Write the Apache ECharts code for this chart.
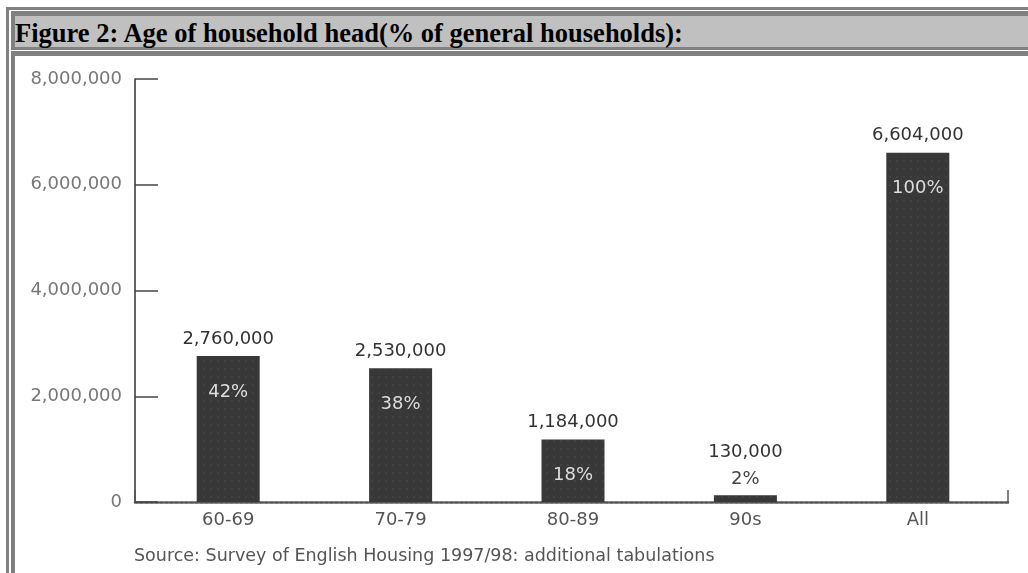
<!DOCTYPE html>
<html>
<head>
<meta charset="utf-8">
<script src="https://cdn.jsdelivr.net/npm/echarts@6/dist/echarts.min.js"></script>
<style>
  html, body { margin: 0; padding: 0; width: 1028px; height: 573px; overflow: hidden; background: #fff; }
  #outer { position: absolute; left: 6px; top: 7px; width: 1100px; height: 700px;
           border-left: 3px solid #808080; border-top: 3px solid #808080; background: #fff; }
  #header { position: absolute; left: 11px; top: 11px; width: 1100px; height: 31px;
            border-top: 5px solid #808080; border-left: 4px solid #808080; border-bottom: 3px solid #808080;
            background: #c0c0c0; }
  #header span { position: absolute; left: 0px; top: 3px; font-family: "Liberation Serif", "Times New Roman", serif;
                 font-weight: bold; font-size: 26.5px; color: #000; white-space: nowrap; line-height: 28px; }
  #content { position: absolute; left: 11px; top: 51px; width: 1100px; height: 700px;
             border-top: 5px solid #808080; border-left: 4px solid #808080; background: #fff; }
  #chart { position: absolute; left: 0; top: 0; width: 1028px; height: 573px; }
</style>
</head>
<body>
<div id="outer"></div>
<div id="header"><span>Figure 2: Age of household head(% of general households):</span></div>
<div id="content"></div>
<div id="chart"></div>
<script>
const categories = ['60-69', '70-79', '80-89', '90s', 'All'];
const households = [2760000, 2530000, 1184000, 130000, 6604000];
const percentLabels = ['42%', '38%', '18%', '2%', '100%'];
const yMin = 0, yMax = 8000000, yInterval = 2000000;
const sourceNote = 'Source: Survey of English Housing 1997/98: additional tabulations';

const fmt = v => Number(v).toLocaleString('en-US');
const FONT = '"DejaVu Sans", sans-serif';

const chart = echarts.init(document.getElementById('chart'), null, { renderer: 'canvas' });

const gridTop = 79, gridBottom = 71;

chart.setOption({
  animation: false,
  backgroundColor: 'transparent',
  graphic: [{
    type: 'text', left: 134, top: 547,
    style: { text: sourceNote, font: '17.5px ' + FONT, fill: '#555' }
  }],
  grid: [
    { left: 135, right: 20, top: gridTop, bottom: gridBottom },
    { left: 142, right: 24, top: gridTop, bottom: gridBottom }
  ],
  xAxis: [
    { type: 'value', gridIndex: 0, min: 0, max: 1, interval: 1,
      axisLine: { show: true, lineStyle: { color: '#555', width: 2.5, type: [3, 2] } },
      axisTick: { show: true, inside: true, length: 12, lineStyle: { color: '#555', width: 1.5 } },
      axisLabel: { show: false }, splitLine: { show: false } },
    { type: 'category', gridIndex: 1, data: categories,
      axisLine: { show: false }, axisTick: { show: false },
      axisLabel: { color: '#555', fontFamily: FONT, fontSize: 18, margin: 9 } }
  ],
  yAxis: [
    { type: 'value', gridIndex: 0, min: yMin, max: yMax, interval: yInterval,
      axisLine: { show: true, lineStyle: { color: '#333', width: 1.5 } },
      axisTick: { show: true, inside: true, length: 23, lineStyle: { color: '#444', width: 1.5 } },
      axisLabel: { color: '#777', fontFamily: FONT, fontSize: 18, margin: 13, formatter: v => fmt(v) },
      splitLine: { show: false } },
    { type: 'value', gridIndex: 1, min: yMin, max: yMax, interval: yInterval, show: false }
  ],
  series: [
    { type: 'bar', xAxisIndex: 1, yAxisIndex: 1, barWidth: 63,
      data: households.map((v, i) => categories[i] === '90s'
        ? { value: v, label: { distance: 34 } } : v),
      itemStyle: {
        color: '#383838',
        decal: { symbol: 'rect', symbolSize: 0.6, color: 'rgba(120,120,120,0.55)',
                 dashArrayX: [2, 5], dashArrayY: [2, 6] }
      },
      label: { show: true, position: 'top', distance: 8, color: '#333',
               fontFamily: FONT, fontSize: 18, formatter: p => fmt(p.value) },
      z: 2 },
    { type: 'bar', xAxisIndex: 1, yAxisIndex: 1, barWidth: 63, barGap: '-100%',
      data: households.map((v, i) => categories[i] === '90s'
        ? { value: v, label: { position: 'top', distance: 7, color: '#444' } } : v),
      itemStyle: { color: 'rgba(0,0,0,0)' },
      label: { show: true, position: 'insideTop', distance: 27, color: '#ddd',
               fontFamily: FONT, fontSize: 18, formatter: p => percentLabels[p.dataIndex] },
      z: 3 }
  ]
});
</script>
</body>
</html>
